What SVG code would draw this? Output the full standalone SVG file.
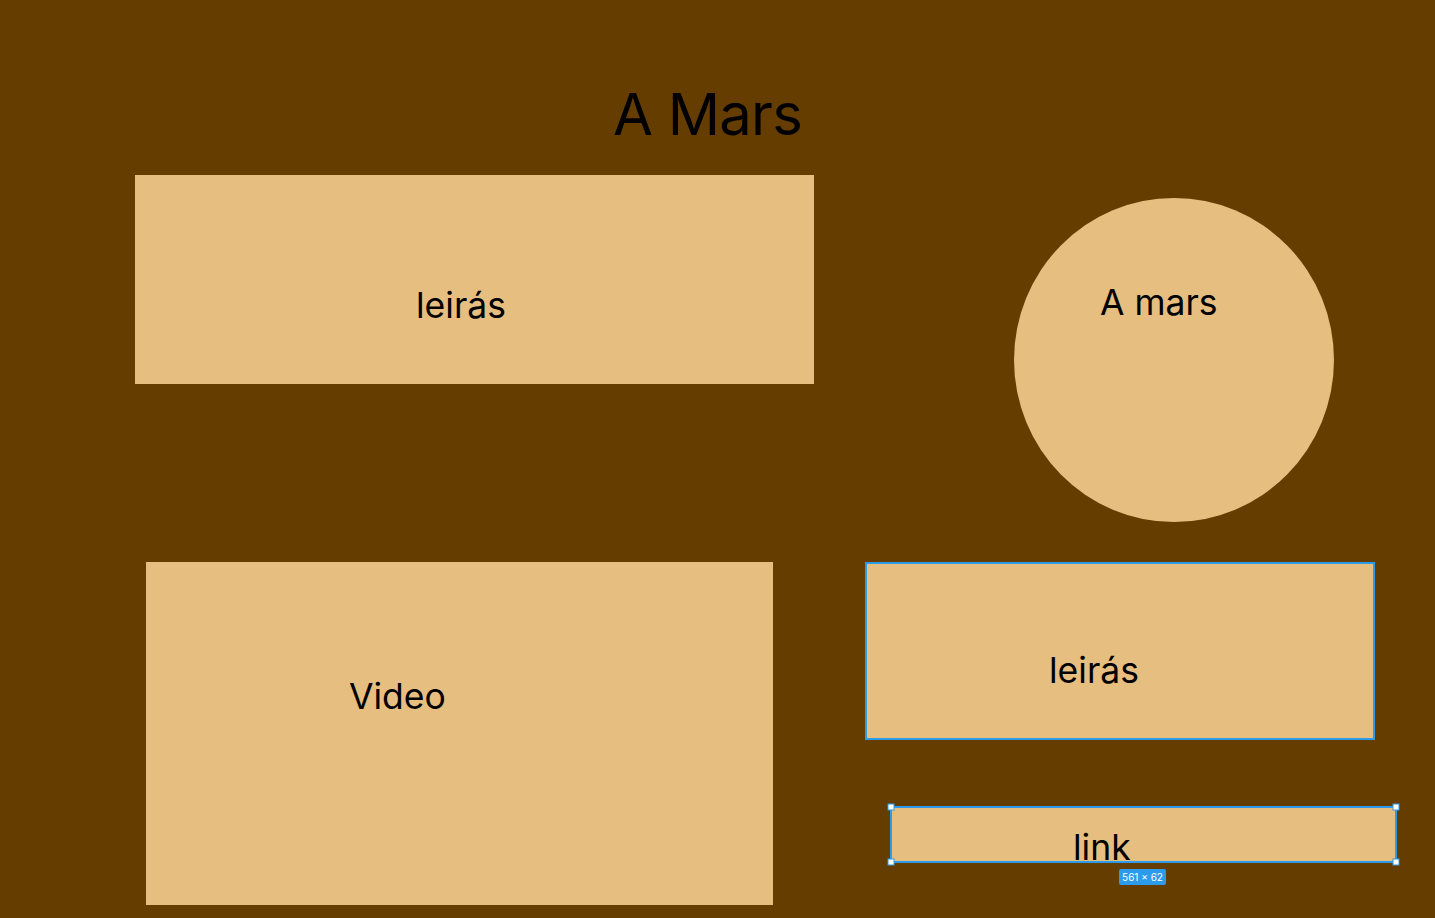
<svg xmlns="http://www.w3.org/2000/svg" width="1435" height="918" viewBox="0 0 1435 918">
  <style>
    .box { fill: #E6BE80; }
    .sel { stroke: #2C9BEA; stroke-width: 2; }
    .label { font-family: Inter, "Liberation Sans", sans-serif; fill: #000; font-size: 35.5px; }
    .handle { fill: #fff; stroke: #2C9BEA; stroke-width: 1; }
  </style>
  <rect width="1435" height="918" fill="#663D00"/>
  <g id="title">
    <text class="label" x="613" y="135" style="font-size:58px" letter-spacing="-0.8">A Mars</text>
  </g>
  <g id="description-top">
    <rect class="box" x="135" y="175" width="679" height="209"/>
    <text class="label" x="416" y="318">leirás</text>
  </g>
  <g id="planet">
    <ellipse class="box" cx="1174" cy="360" rx="160" ry="162"/>
    <text class="label" x="1100" y="315">A mars</text>
  </g>
  <g id="video">
    <rect class="box" x="146" y="562" width="627" height="343"/>
    <text class="label" x="349" y="709">Video</text>
  </g>
  <g id="description-bottom">
    <rect class="box sel" x="866" y="563" width="508" height="176"/>
    <text class="label" x="1049" y="683">leirás</text>
  </g>
  <g id="link">
    <rect class="box sel" x="891" y="807" width="505" height="55"/>
    <text class="label" x="1073" y="860">link</text>
    <rect class="handle" x="888" y="804" width="6" height="6"/>
    <rect class="handle" x="1393" y="804" width="6" height="6"/>
    <rect class="handle" x="888" y="859" width="6" height="6"/>
    <rect class="handle" x="1393" y="859" width="6" height="6"/>
    <rect x="1119" y="869" width="47" height="16" rx="2" fill="#2C9BEA"/>
    <text x="1142.5" y="881" text-anchor="middle" font-family="Inter, 'Liberation Sans', sans-serif" font-size="10" fill="#fff">561 × 62</text>
  </g>
  <g id="connectors"/>
</svg>
